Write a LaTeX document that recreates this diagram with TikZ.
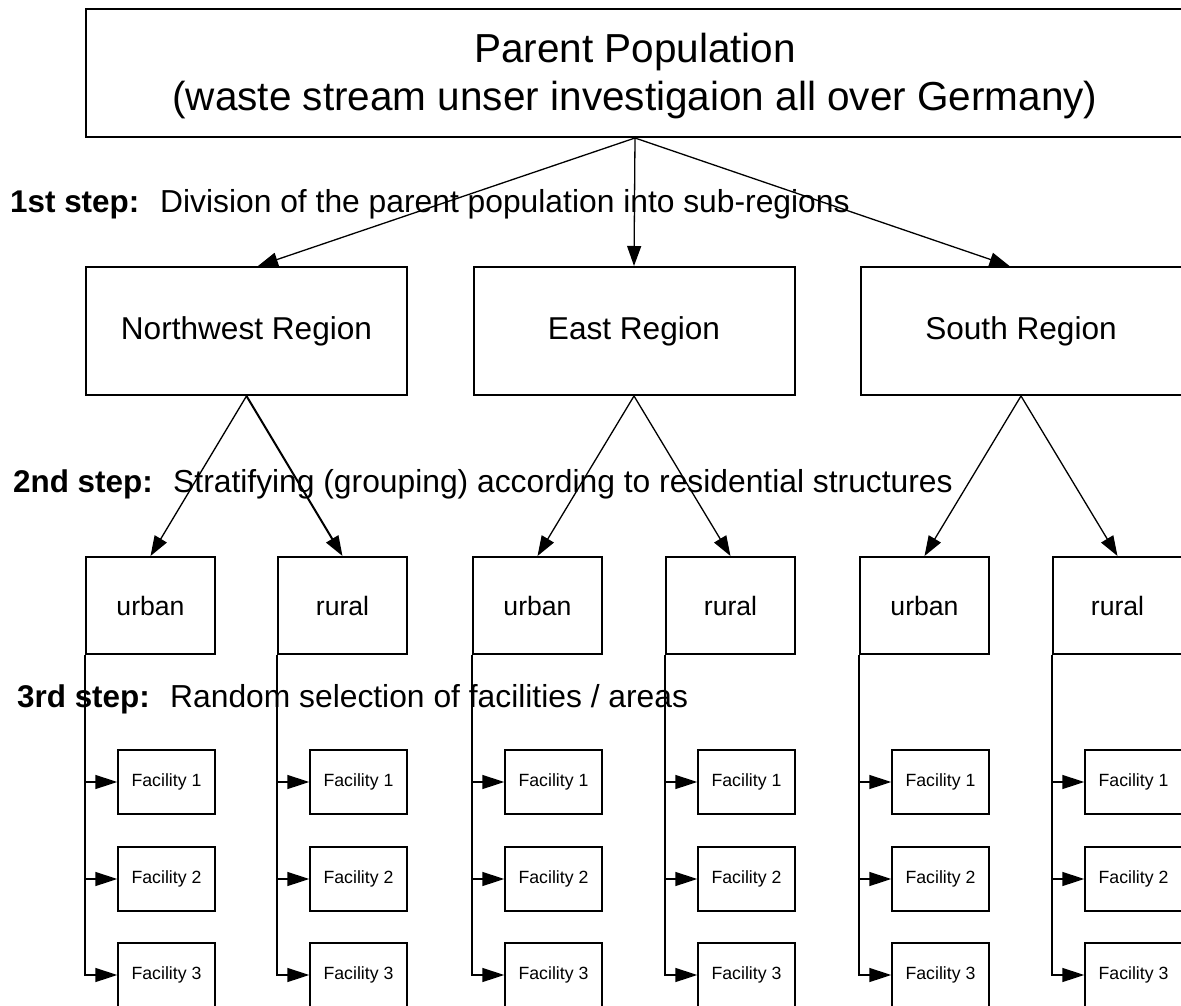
\documentclass[tikz,border=0pt]{standalone}
\usepackage{fontspec}
\setmainfont{Liberation Sans}
\usetikzlibrary{arrows.meta}
\begin{document}
\begin{tikzpicture}[x=1pt,y=-1pt,
  box/.style={draw,line width=2pt,inner sep=0pt,align=center},
  popbox/.style={box,minimum width=1098pt,minimum height=128pt},
  poptext/.style={inner sep=0pt,align=center,font=\fontsize{40.5}{48}\selectfont},
  regbox/.style={box,minimum width=321pt,minimum height=128pt,font=\fontsize{31.6}{38}\selectfont},
  subbox/.style={box,minimum width=129pt,minimum height=97pt,font=\fontsize{26.6}{32}\selectfont},
  facbox/.style={draw,line width=1.5pt,inner sep=0pt,minimum width=97pt,minimum height=64pt,font=\fontsize{17.7}{21}\selectfont},
  steplbl/.style={anchor=base west,inner sep=0pt,font=\fontsize{31.4}{38}\selectfont\bfseries},
  steptxt/.style={anchor=base west,inner sep=0pt,font=\fontsize{31.8}{38}\selectfont},
  bigarrow/.style={line width=1.3pt,-{Triangle[length=20pt,width=14pt]}},
  facarrow/.style={line width=1.5pt,-{Triangle[length=22pt,width=14pt]}},
]
\useasboundingbox (0,0) rectangle (1181,1006);
\clip (0,0) rectangle (1181,1006);

% parent population and the three sub-regions
\node[popbox] (pop) at (635,73) {};
\node[poptext] (poptxt) at (635,76) {Parent Population\\(waste stream unser investigaion all over Germany)};
\node[regbox] (nw) at (246.5,331) {Northwest Region};
\node[regbox] (ea) at (634,331) {East Region};
\node[regbox] (so) at (1021,331) {South Region};

\draw[bigarrow] (pop.south) -- (nw.80);
\draw[bigarrow] (pop.south) -- (ea.north);
\draw[bigarrow] (pop.south) -- (so.100);

% strata and facilities
\foreach \s/\cx/\t in {nwu/150.5/urban, nwr/342.5/rural, eau/537.5/urban,
                        ear/730.5/rural, sou/924.5/urban, sor/1117.5/rural}{
  \node[subbox] (\s) at (\cx,605.5) {\t};
  \foreach \i/\fy in {1/782,2/879,3/975}{
    \node[facbox] (\s F\i) at (\cx+16,\fy) {Facility \i};
  }
  \draw[facarrow] (\s.south west) |- (\s F3.west);
  \draw[facarrow] (\s.south west |- \s F1.west) -- (\s F1.west);
  \draw[facarrow] (\s.south west |- \s F2.west) -- (\s F2.west);
}

\draw[bigarrow] (nw.south) -- (nwu.north);
\draw[bigarrow,line width=2pt] (nw.south) -- (nwr.north);
\draw[bigarrow] (ea.south) -- (eau.north);
\draw[bigarrow] (ea.south) -- (ear.north);
\draw[bigarrow] (so.south) -- (sou.north);
\draw[bigarrow] (so.south) -- (sor.north);

% step captions
\node[steplbl] (s1b) at (10,212) {1st step:};
\node[steptxt] (s1t) at (160,212) {Division of the parent population into sub-regions};
\node[steplbl] (s2b) at (13,492) {2nd step:};
\node[steptxt] (s2t) at (173,492) {Stratifying (grouping) according to residential structures};
\node[steplbl] (s3b) at (17,707) {3rd step:};
\node[steptxt] (s3t) at (170,707) {Random selection of facilities / areas};
\end{tikzpicture}
\end{document}
